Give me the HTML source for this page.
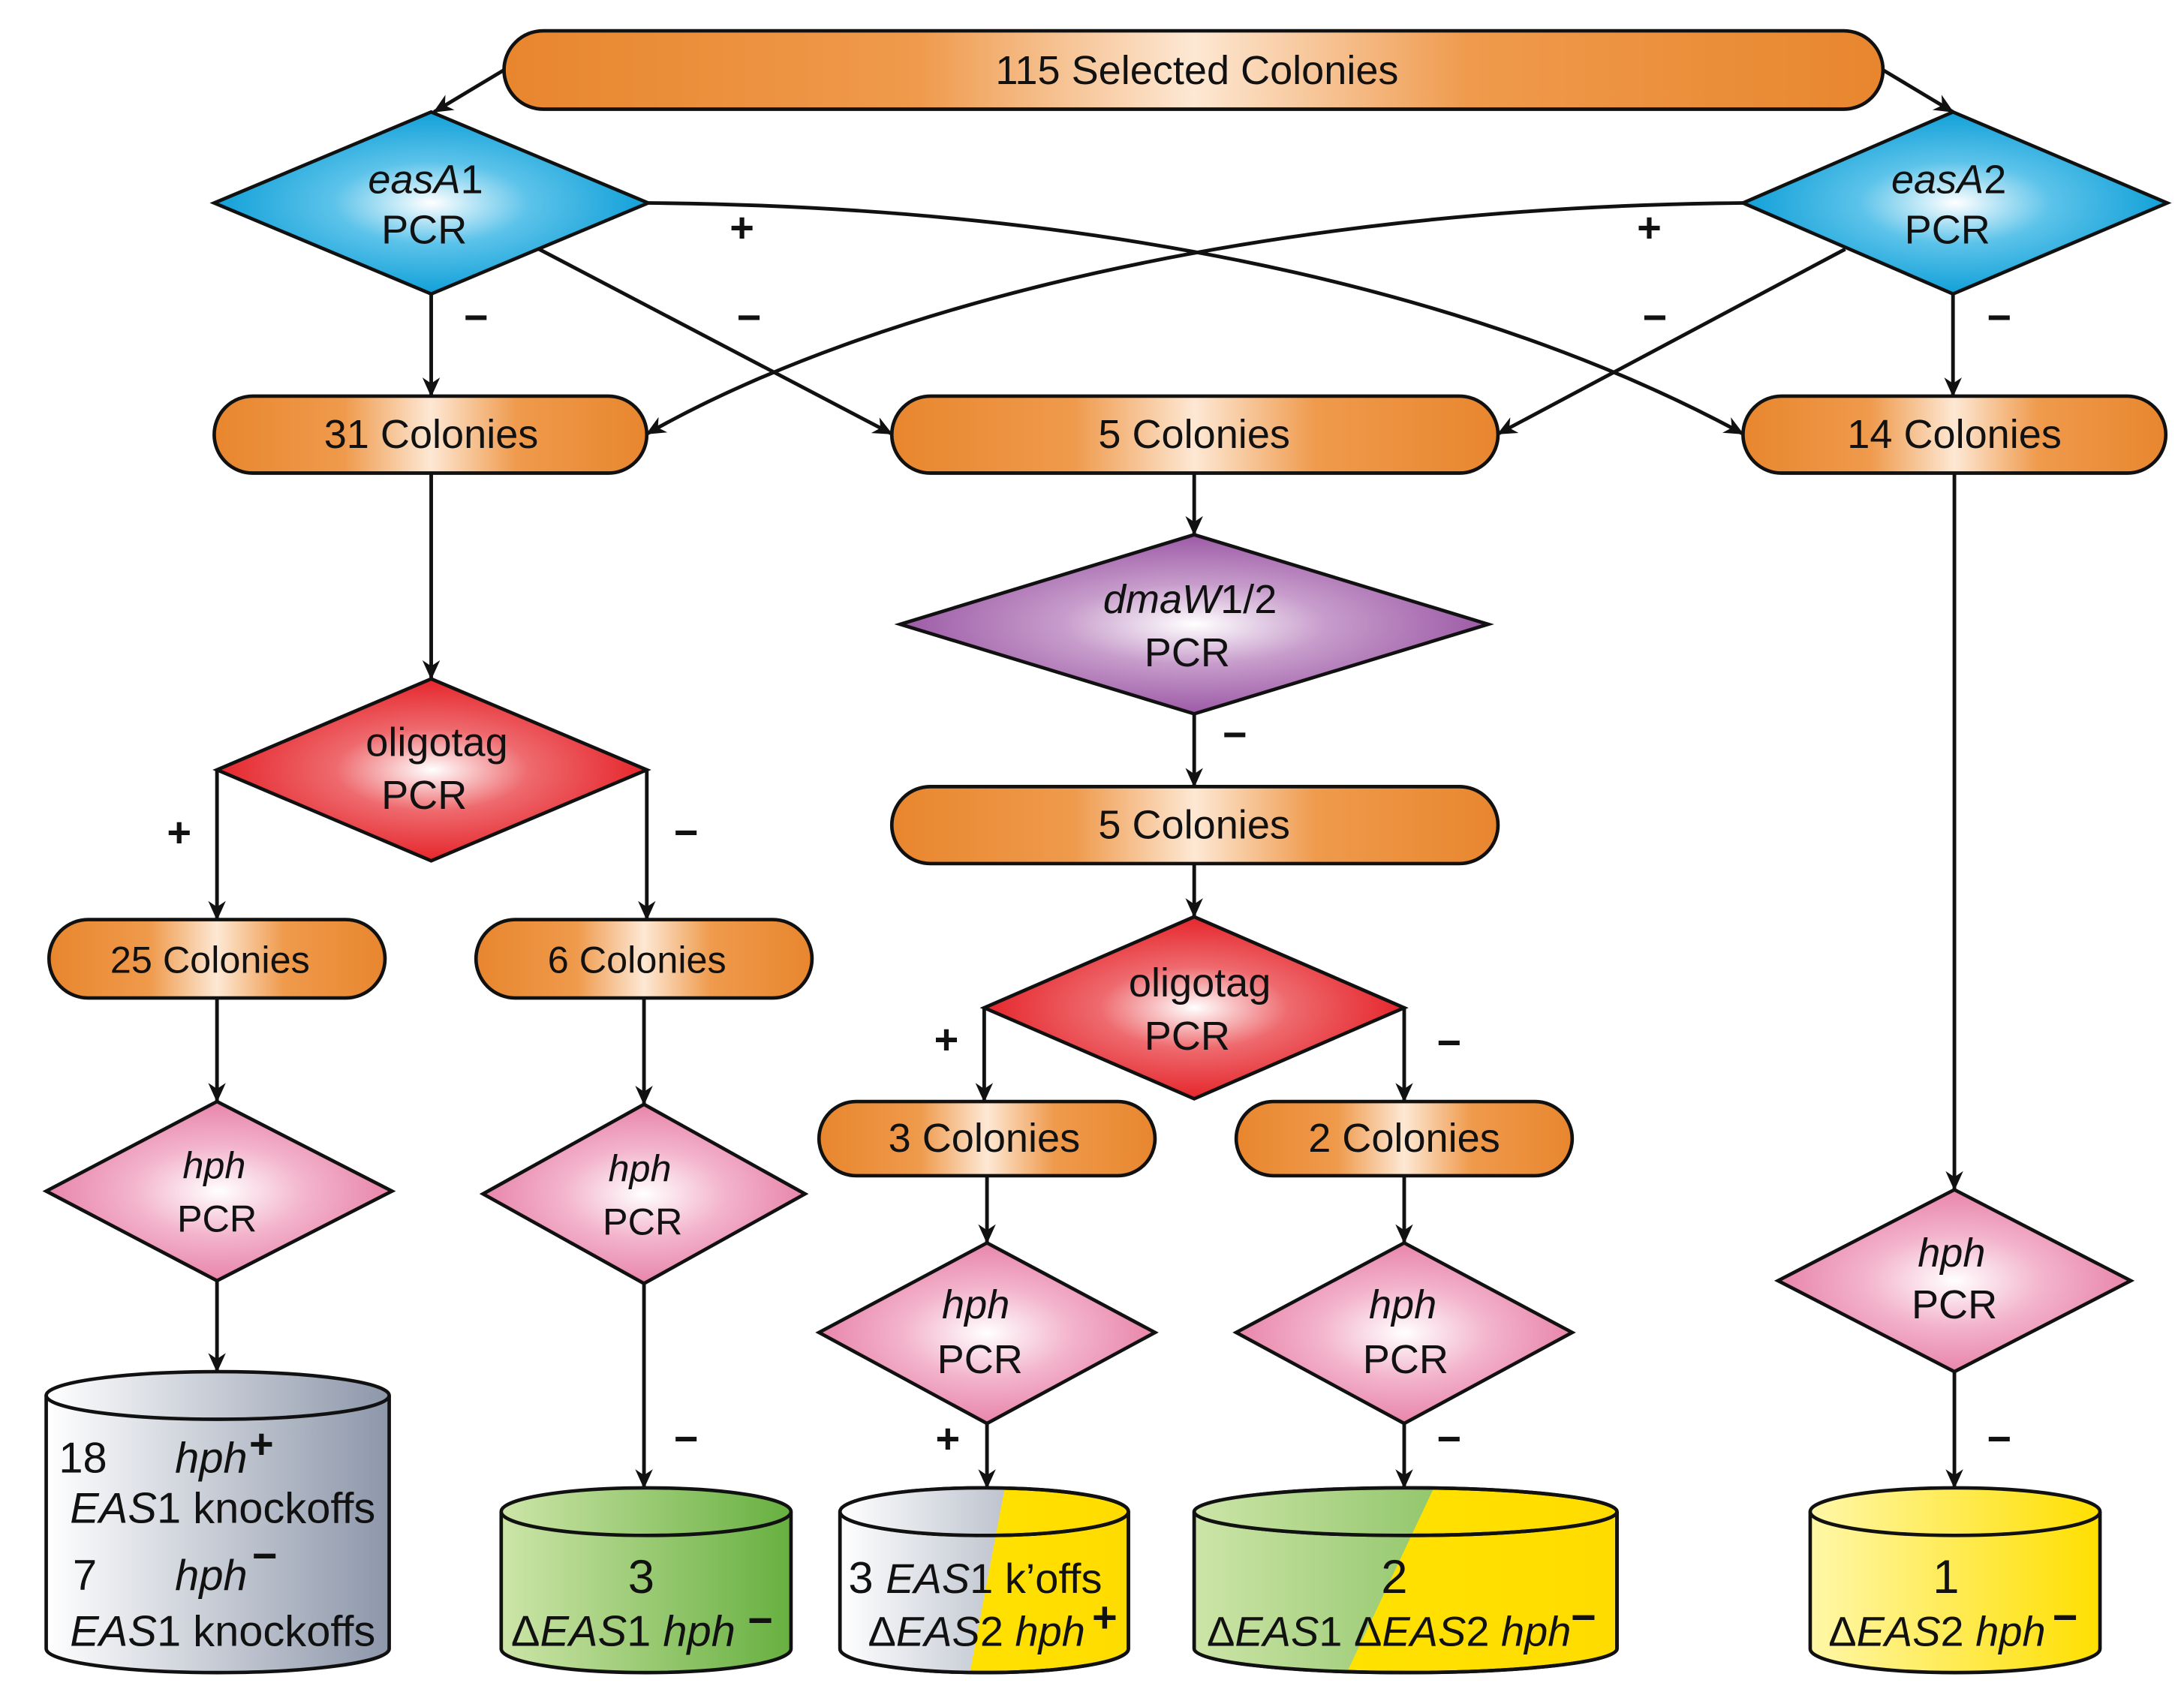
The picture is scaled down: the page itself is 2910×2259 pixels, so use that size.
<!DOCTYPE html>
<html><head><meta charset="utf-8"><style>
html,body{margin:0;padding:0;background:#fff;}
svg{display:block;}
text{font-family:"Liberation Sans",sans-serif;fill:#111;}
</style></head><body>
<svg width="2910" height="2259" viewBox="0 0 1560 1211" xmlns="http://www.w3.org/2000/svg">
<defs>
<linearGradient id="org" x1="0" x2="1" y1="0" y2="0">
<stop offset="0" stop-color="#e8862e"/><stop offset="0.3" stop-color="#ef9a4c"/><stop offset="0.5" stop-color="#fde8d4"/><stop offset="0.7" stop-color="#ef9a4c"/><stop offset="1" stop-color="#e8862e"/></linearGradient>
<radialGradient id="blue"><stop offset="0" stop-color="#ffffff"/><stop offset="0.45" stop-color="#5cc3ea"/><stop offset="1" stop-color="#11a0d8"/></radialGradient>
<radialGradient id="red"><stop offset="0" stop-color="#ffffff"/><stop offset="0.45" stop-color="#ee6a6e"/><stop offset="1" stop-color="#e5262c"/></radialGradient>
<radialGradient id="purp"><stop offset="0" stop-color="#ffffff"/><stop offset="0.45" stop-color="#c79ccb"/><stop offset="1" stop-color="#9c5aa6"/></radialGradient>
<radialGradient id="pink"><stop offset="0" stop-color="#ffffff"/><stop offset="0.5" stop-color="#f3b4cc"/><stop offset="1" stop-color="#e885aa"/></radialGradient>
<linearGradient id="grey" x1="0" x2="1"><stop offset="0" stop-color="#ffffff"/><stop offset="1" stop-color="#8d97aa"/></linearGradient>
<linearGradient id="green" x1="0" x2="1"><stop offset="0" stop-color="#cde5a8"/><stop offset="1" stop-color="#67b040"/></linearGradient>
<linearGradient id="yel" x1="0" x2="1"><stop offset="0" stop-color="#fff7a8"/><stop offset="1" stop-color="#ffdf00"/></linearGradient>
<linearGradient id="yel2" x1="0" x2="1"><stop offset="0" stop-color="#ffe500"/><stop offset="1" stop-color="#ffdc00"/></linearGradient>
<marker id="ar" viewBox="0 0 20 20" refX="19" refY="10" markerWidth="14" markerHeight="14" markerUnits="userSpaceOnUse" orient="auto">
<path d="M0,1 L20,10 L0,19 L6,10 Z" fill="#111"/></marker>
<clipPath id="c3"><polygon points="600,1040 722,1040 690,1210 590,1210"/></clipPath>
<clipPath id="c2"><polygon points="840,1040 1035,1040 955,1210 840,1210"/></clipPath>
</defs>

<g stroke="#111" stroke-width="2.6" fill="none" marker-end="url(#ar)">
<path d="M360,50 L310,80"/>
<path d="M1345,50 L1395,80"/>
<path d="M308,210 L308,283"/>
<path d="M385,178 L637,310"/>
<path d="M463,145 C820,148 1080,220 1245,310"/>
<path d="M1245,145 C900,148 620,220 462,310"/>
<path d="M1318,178 L1070,310"/>
<path d="M1395,210 L1395,283"/>
<path d="M308,338 L308,485"/>
<path d="M155,550 L155,657"/>
<path d="M462,550 L462,657"/>
<path d="M155,713 L155,787"/>
<path d="M460,713 L460,789"/>
<path d="M155,915 L155,980"/>
<path d="M460,917 L460,1063"/>
<path d="M853,338 L853,382"/>
<path d="M853,510 L853,562"/>
<path d="M853,617 L853,655"/>
<path d="M703,720 L703,787"/>
<path d="M1003,720 L1003,787"/>
<path d="M705,840 L705,888"/>
<path d="M1003,840 L1003,888"/>
<path d="M705,1017 L705,1063"/>
<path d="M1003,1017 L1003,1063"/>
<path d="M1396,338 L1396,850"/>
<path d="M1396,980 L1396,1063"/>
</g>

<g stroke="#111" stroke-width="2.5" fill="url(#org)">
<rect x="360" y="22" width="985" height="56" rx="28"/>
<rect x="153" y="283" width="309" height="55" rx="27.5"/>
<rect x="637" y="283" width="433" height="55" rx="27.5"/>
<rect x="1245" y="283" width="302" height="55" rx="27.5"/>
<rect x="637" y="562" width="433" height="55" rx="27.5"/>
<rect x="35" y="657" width="240" height="56" rx="28"/>
<rect x="340" y="657" width="240" height="56" rx="28"/>
<rect x="585" y="787" width="240" height="53" rx="26.5"/>
<rect x="883" y="787" width="240" height="53" rx="26.5"/>
</g>
<g font-size="29" text-anchor="middle">
<text x="855" y="60">115 Selected Colonies</text>
<text x="308" y="320">31 Colonies</text>
<text x="853" y="320">5 Colonies</text>
<text x="1396" y="320">14 Colonies</text>
<text x="853" y="599">5 Colonies</text>
<text x="150" y="695" font-size="27">25 Colonies</text>
<text x="455" y="695" font-size="27">6 Colonies</text>
<text x="703" y="823">3 Colonies</text>
<text x="1003" y="823">2 Colonies</text>
</g>

<g stroke="#111" stroke-width="2.5">
<polygon points="308,80 463,145 308,210 153,145" fill="url(#blue)"/>
<polygon points="1395,80 1548,145 1395,210 1245,145" fill="url(#blue)"/>
<polygon points="308,485 462,550 308,615 155,550" fill="url(#red)"/>
<polygon points="853,382 1063,446 853,510 643,446" fill="url(#purp)"/>
<polygon points="853,655 1003,720 853,785 703,720" fill="url(#red)"/>
<polygon points="155,787 280,851 155,915 33,851" fill="url(#pink)"/>
<polygon points="460,789 575,853 460,917 345,853" fill="url(#pink)"/>
<polygon points="705,888 825,952 705,1017 585,952" fill="url(#pink)"/>
<polygon points="1003,888 1123,952 1003,1017 883,952" fill="url(#pink)"/>
<polygon points="1396,850 1522,915 1396,980 1270,915" fill="url(#pink)"/>
</g>
<g font-size="29" text-anchor="middle">
<text x="304" y="138"><tspan font-style="italic">easA</tspan>1</text>
<text x="303" y="174">PCR</text>
<text x="1392" y="138"><tspan font-style="italic">easA</tspan>2</text>
<text x="1391" y="174">PCR</text>
<text x="312" y="540">oligotag</text>
<text x="303" y="578">PCR</text>
<text x="850" y="438"><tspan font-style="italic">dmaW</tspan>1/2</text>
<text x="848" y="476">PCR</text>
<text x="857" y="712">oligotag</text>
<text x="848" y="750">PCR</text>
<g font-size="27">
<text x="153" y="842" font-style="italic">hph</text><text x="155" y="880">PCR</text>
<text x="457" y="844" font-style="italic">hph</text><text x="459" y="882">PCR</text>
</g>
<text x="697" y="942" font-style="italic">hph</text><text x="700" y="981">PCR</text>
<text x="1002" y="942" font-style="italic">hph</text><text x="1004" y="981">PCR</text>
<text x="1394" y="905" font-style="italic">hph</text><text x="1396" y="942">PCR</text>
</g>

<g font-size="30" font-weight="bold" text-anchor="middle">
<text x="530" y="173">+</text>
<text x="1178" y="173">+</text>
<text x="340" y="237">−</text>
<text x="535" y="237">−</text>
<text x="1182" y="237">−</text>
<text x="1428" y="237">−</text>
<text x="128" y="605">+</text>
<text x="490" y="605">−</text>
<text x="882" y="535">−</text>
<text x="676" y="753">+</text>
<text x="1035" y="755">−</text>
<text x="490" y="1038">−</text>
<text x="677" y="1038">+</text>
<text x="1035" y="1038">−</text>
<text x="1428" y="1038">−</text>
</g>

<g stroke="#111" stroke-width="2.5">
<path d="M33,997 L33,1178 A122.5,17 0 0 0 278,1178 L278,997" fill="url(#grey)"/>
<ellipse cx="155.5" cy="997" rx="122.5" ry="17" fill="url(#grey)"/>
<path d="M358,1080 L358,1178 A103.5,17 0 0 0 565,1178 L565,1080" fill="url(#green)"/>
<ellipse cx="461.5" cy="1080" rx="103.5" ry="17" fill="url(#green)"/>
<path d="M600,1080 L600,1178 A103,17 0 0 0 806,1178 L806,1080" fill="url(#yel2)"/>
<path d="M600,1080 L600,1178 A103,17 0 0 0 806,1178 L806,1080" fill="url(#grey)" clip-path="url(#c3)" stroke="none"/>
<ellipse cx="703" cy="1080" rx="103" ry="17" fill="url(#yel2)"/>
<ellipse cx="703" cy="1080" rx="103" ry="17" fill="url(#grey)" clip-path="url(#c3)" stroke="none"/>
<ellipse cx="703" cy="1080" rx="103" ry="17" fill="none"/>
<path d="M600,1080 L600,1178 A103,17 0 0 0 806,1178 L806,1080" fill="none"/>
<path d="M853,1080 L853,1178 A151,17 0 0 0 1155,1178 L1155,1080" fill="url(#yel2)"/>
<path d="M853,1080 L853,1178 A151,17 0 0 0 1155,1178 L1155,1080" fill="url(#green)" clip-path="url(#c2)" stroke="none"/>
<ellipse cx="1004" cy="1080" rx="151" ry="17" fill="url(#yel2)"/>
<ellipse cx="1004" cy="1080" rx="151" ry="17" fill="url(#green)" clip-path="url(#c2)" stroke="none"/>
<ellipse cx="1004" cy="1080" rx="151" ry="17" fill="none"/>
<path d="M853,1080 L853,1178 A151,17 0 0 0 1155,1178 L1155,1080" fill="none"/>
<path d="M1293,1080 L1293,1178 A103.5,17 0 0 0 1500,1178 L1500,1080" fill="url(#yel)"/>
<ellipse cx="1396.5" cy="1080" rx="103.5" ry="17" fill="url(#yel)"/>
</g>
<g font-size="31">
<text x="42" y="1052">18</text><text x="125" y="1052" font-style="italic">hph</text><text x="178" y="1042" font-size="30" font-weight="bold">+</text>
<text x="50" y="1088"><tspan font-style="italic">EAS</tspan>1 knockoffs</text>
<text x="52" y="1136">7</text><text x="125" y="1136" font-style="italic">hph</text><text x="180" y="1122" font-weight="bold">−</text>
<text x="50" y="1176"><tspan font-style="italic">EAS</tspan>1 knockoffs</text>
<text x="458" y="1138" text-anchor="middle" font-size="34">3</text>
<text x="365" y="1176"><tspan>Δ</tspan><tspan font-style="italic">EAS</tspan>1 <tspan font-style="italic">hph</tspan></text><text x="534" y="1168" font-weight="bold">−</text>
<text x="606" y="1138" font-size="32">3 <tspan font-style="italic" font-size="30">EAS</tspan><tspan font-size="30">1 k’offs</tspan></text>
<text x="620" y="1176" font-size="30">Δ<tspan font-style="italic">EAS</tspan>2 <tspan font-style="italic">hph</tspan></text><text x="780" y="1166" font-weight="bold">+</text>
<text x="996" y="1138" text-anchor="middle" font-size="34">2</text>
<text x="862" y="1176" font-size="30">Δ<tspan font-style="italic">EAS</tspan>1 Δ<tspan font-style="italic">EAS</tspan>2 <tspan font-style="italic">hph</tspan></text><text x="1122" y="1166" font-weight="bold">−</text>
<text x="1390" y="1138" text-anchor="middle" font-size="34">1</text>
<text x="1306" y="1176" font-size="30">Δ<tspan font-style="italic">EAS</tspan>2 <tspan font-style="italic">hph</tspan></text><text x="1466" y="1166" font-weight="bold">−</text>
</g>
</svg>
</body></html>
